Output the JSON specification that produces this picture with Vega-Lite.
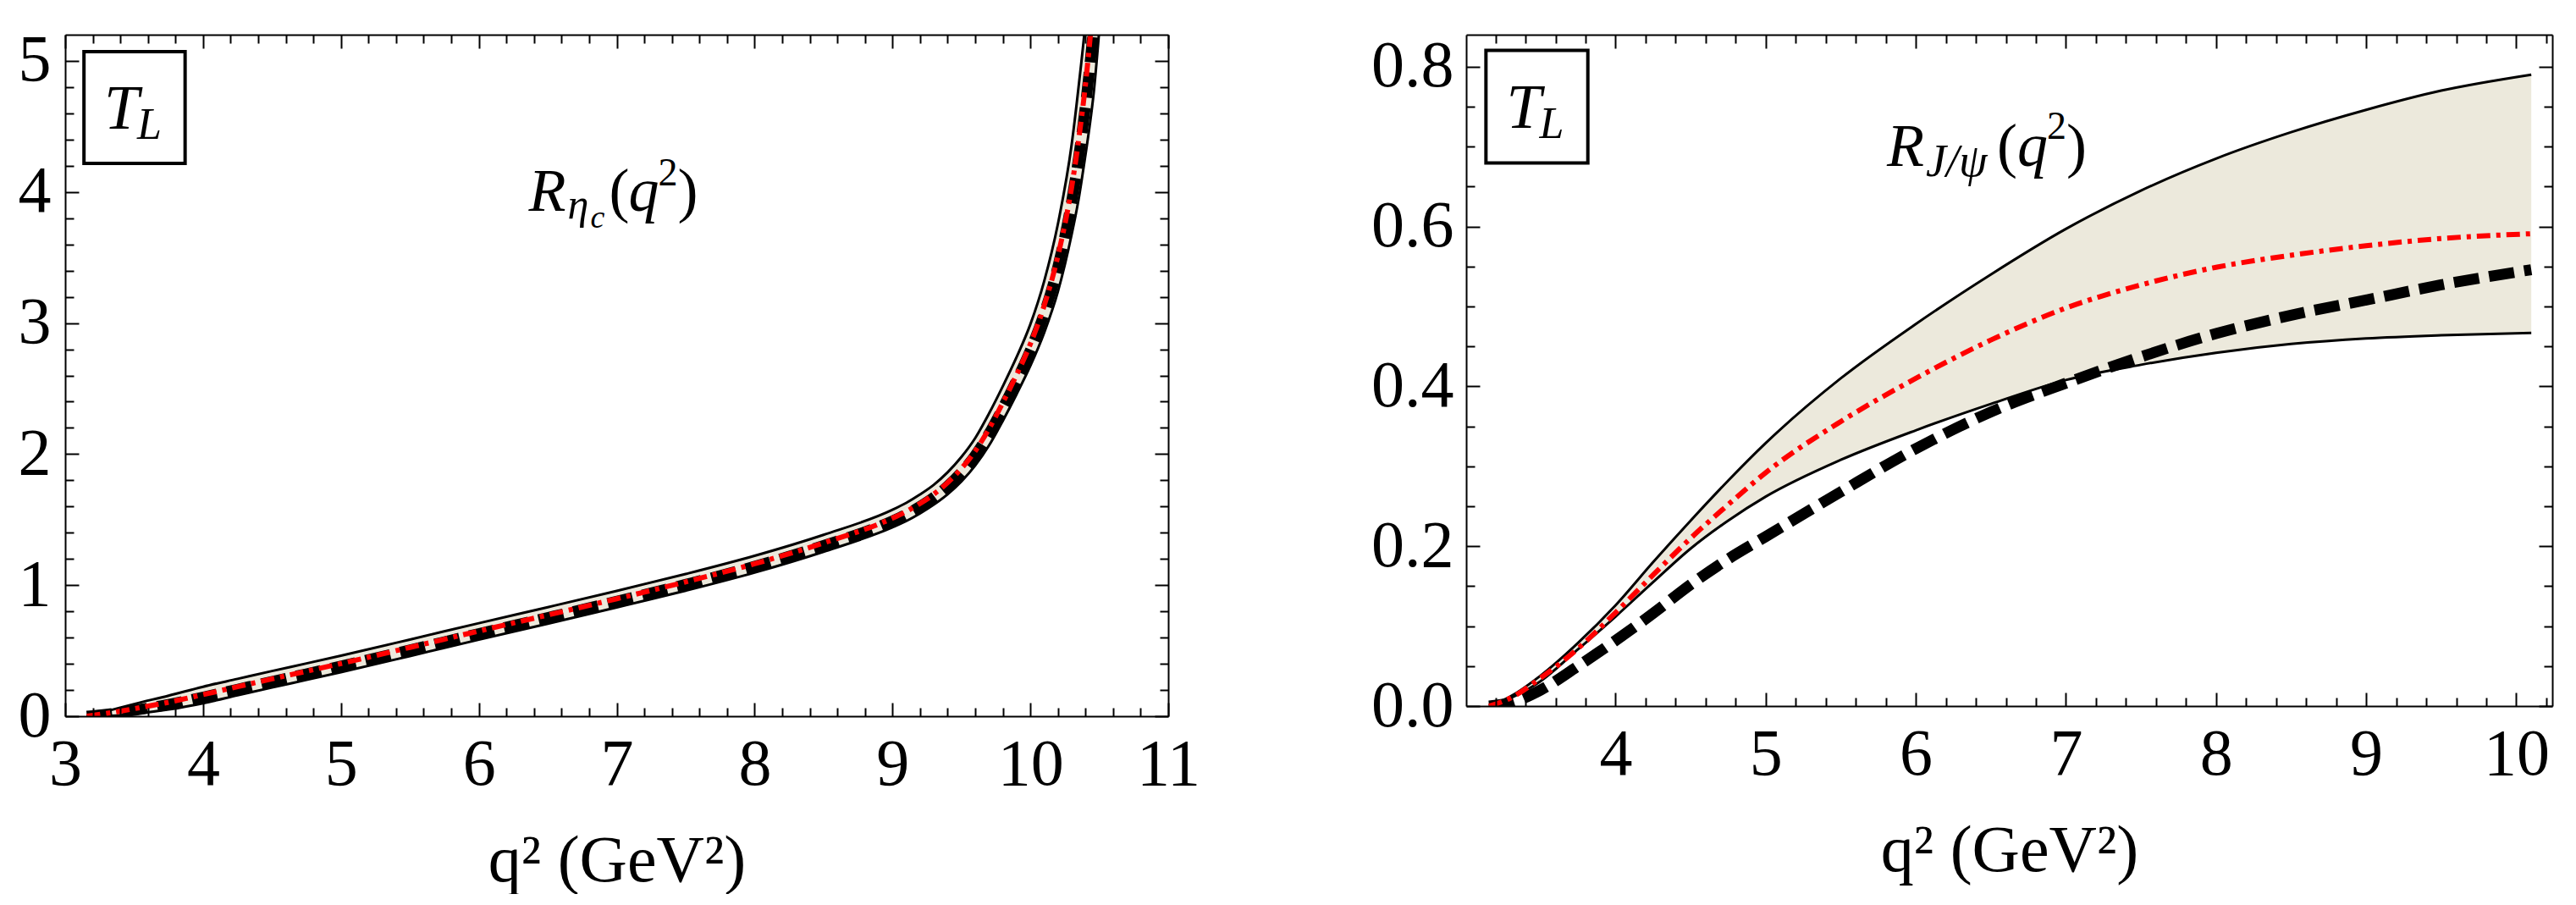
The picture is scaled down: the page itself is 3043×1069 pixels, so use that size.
{
  "$schema": "https://vega.github.io/schema/vega-lite/v6.json",
  "background": "white",
  "padding": {"left": 21, "top": 9, "right": 5, "bottom": 0},
  "spacing": 201,
  "config": {
    "view": {"stroke": null},
    "axis": {
      "grid": false,
      "domainColor": "black",
      "domainWidth": 2,
      "tickColor": "black",
      "tickWidth": 2,
      "labelFont": "Liberation Serif",
      "labelFontSize": 78,
      "labelColor": "black",
      "titleFont": "Liberation Serif",
      "titleFontSize": 78,
      "titleFontWeight": "normal",
      "titleColor": "black",
      "labelFlush": false,
      "labelOverlap": false,
      "labelBound": false
    }
  },
  "datasets": {
    "etac": [
      {"q2": 3.157, "lo": 0, "hi": 0, "mid": 0, "red": 0},
      {"q2": 3.3, "lo": 0.001, "hi": 0.038, "mid": 0.015, "red": 0.021},
      {"q2": 3.5, "lo": 0.017, "hi": 0.093, "mid": 0.045, "red": 0.057},
      {"q2": 3.75, "lo": 0.051, "hi": 0.157, "mid": 0.09, "red": 0.107},
      {"q2": 4.0, "lo": 0.099, "hi": 0.225, "mid": 0.145, "red": 0.165},
      {"q2": 4.25, "lo": 0.159, "hi": 0.285, "mid": 0.205, "red": 0.225},
      {"q2": 4.5, "lo": 0.219, "hi": 0.345, "mid": 0.265, "red": 0.285},
      {"q2": 4.75, "lo": 0.277, "hi": 0.403, "mid": 0.323, "red": 0.343},
      {"q2": 5.0, "lo": 0.336, "hi": 0.462, "mid": 0.382, "red": 0.402},
      {"q2": 5.5, "lo": 0.459, "hi": 0.585, "mid": 0.505, "red": 0.525},
      {"q2": 6.0, "lo": 0.584, "hi": 0.71, "mid": 0.63, "red": 0.65},
      {"q2": 6.5, "lo": 0.706, "hi": 0.832, "mid": 0.752, "red": 0.772},
      {"q2": 7.0, "lo": 0.83, "hi": 0.956, "mid": 0.876, "red": 0.896},
      {"q2": 7.5, "lo": 0.958, "hi": 1.085, "mid": 1.005, "red": 1.025},
      {"q2": 8.0, "lo": 1.096, "hi": 1.224, "mid": 1.143, "red": 1.163},
      {"q2": 8.5, "lo": 1.255, "hi": 1.384, "mid": 1.302, "red": 1.322},
      {"q2": 9.0, "lo": 1.441, "hi": 1.575, "mid": 1.49, "red": 1.511},
      {"q2": 9.1, "lo": 1.489, "hi": 1.628, "mid": 1.54, "red": 1.562},
      {"q2": 9.2, "lo": 1.547, "hi": 1.692, "mid": 1.6, "red": 1.623},
      {"q2": 9.3, "lo": 1.614, "hi": 1.766, "mid": 1.67, "red": 1.694},
      {"q2": 9.4, "lo": 1.693, "hi": 1.861, "mid": 1.755, "red": 1.782},
      {"q2": 9.5, "lo": 1.791, "hi": 1.978, "mid": 1.86, "red": 1.89},
      {"q2": 9.6, "lo": 1.913, "hi": 2.122, "mid": 1.99, "red": 2.023},
      {"q2": 9.7, "lo": 2.065, "hi": 2.309, "mid": 2.155, "red": 2.193},
      {"q2": 9.8, "lo": 2.253, "hi": 2.517, "mid": 2.35, "red": 2.392},
      {"q2": 9.9, "lo": 2.456, "hi": 2.739, "mid": 2.56, "red": 2.605},
      {"q2": 10.0, "lo": 2.673, "hi": 2.99, "mid": 2.79, "red": 2.84},
      {"q2": 10.1, "lo": 2.925, "hi": 3.318, "mid": 3.07, "red": 3.132},
      {"q2": 10.2, "lo": 3.24, "hi": 3.756, "mid": 3.43, "red": 3.512},
      {"q2": 10.3, "lo": 3.677, "hi": 4.365, "mid": 3.93, "red": 4.039},
      {"q2": 10.35, "lo": 3.943, "hi": 4.803, "mid": 4.26, "red": 4.396},
      {"q2": 10.4, "lo": 4.284, "hi": 5.304, "mid": 4.66, "red": 4.821},
      {"q2": 10.43, "lo": 4.502, "hi": 5.706, "mid": 4.945, "red": 5.135},
      {"q2": 10.46, "lo": 4.759, "hi": 6.16, "mid": 5.275, "red": 5.496},
      {"q2": 10.5, "lo": 5.234, "hi": 6.757, "mid": 5.795, "red": 6.036},
      {"q2": 10.55, "lo": 5.9, "hi": 7.6, "mid": 6.5, "red": 6.77}
    ],
    "etac_note": [
      {"tag_q2": 3.503, "tag_y": 4.645, "name_q2": 6.362, "name_y": 3.859}
    ],
    "jpsi": [
      {"q2": 3.157, "lo": 0, "hi": 0, "mid": 0, "red": 0},
      {"q2": 3.3, "lo": 0.01, "hi": 0.012, "mid": 0.004, "red": 0.01},
      {"q2": 3.5, "lo": 0.031, "hi": 0.038, "mid": 0.02, "red": 0.035},
      {"q2": 3.75, "lo": 0.071, "hi": 0.079, "mid": 0.05, "red": 0.072},
      {"q2": 4.0, "lo": 0.112, "hi": 0.126, "mid": 0.082, "red": 0.117},
      {"q2": 4.25, "lo": 0.155, "hi": 0.18, "mid": 0.116, "red": 0.164},
      {"q2": 4.5, "lo": 0.197, "hi": 0.232, "mid": 0.152, "red": 0.21},
      {"q2": 4.75, "lo": 0.232, "hi": 0.282, "mid": 0.184, "red": 0.252},
      {"q2": 5.0, "lo": 0.262, "hi": 0.329, "mid": 0.212, "red": 0.292},
      {"q2": 5.5, "lo": 0.308, "hi": 0.41, "mid": 0.268, "red": 0.356},
      {"q2": 6.0, "lo": 0.345, "hi": 0.478, "mid": 0.322, "red": 0.41},
      {"q2": 6.5, "lo": 0.378, "hi": 0.54, "mid": 0.368, "red": 0.458},
      {"q2": 7.0, "lo": 0.408, "hi": 0.597, "mid": 0.404, "red": 0.498},
      {"q2": 7.5, "lo": 0.427, "hi": 0.645, "mid": 0.437, "red": 0.527},
      {"q2": 8.0, "lo": 0.442, "hi": 0.685, "mid": 0.466, "red": 0.549},
      {"q2": 8.5, "lo": 0.453, "hi": 0.718, "mid": 0.489, "red": 0.564},
      {"q2": 9.0, "lo": 0.46, "hi": 0.746, "mid": 0.508, "red": 0.576},
      {"q2": 9.5, "lo": 0.464, "hi": 0.77, "mid": 0.527, "red": 0.585},
      {"q2": 10.1, "lo": 0.467, "hi": 0.79, "mid": 0.546, "red": 0.591}
    ],
    "jpsi_note": [
      {"tag_q2": 3.476, "tag_y": 0.75, "name_q2": 5.808, "name_y": 0.676}
    ]
  },
  "hconcat": [
    {
      "width": 1303,
      "height": 805,
      "data": {"name": "etac"},
      "layer": [
        {
          "mark": {"type": "area", "color": "#ECE9DC", "interpolate": "monotone", "clip": true},
          "encoding": {
            "x": {"field": "q2", "type": "quantitative", "scale": {"domain": [3, 11], "nice": false, "zero": false},
                  "axis": {"orient": "bottom", "values": [3, 4, 5, 6, 7, 8, 9, 10, 11], "format": "d", "ticks": false, "domain": true, "labelPadding": 18, "title": "q² (GeV²)", "titlePadding": 36, "zindex": 1}},
            "y": {"field": "lo", "type": "quantitative", "scale": {"domain": [0, 5.2], "nice": false, "zero": false},
                  "axis": {"orient": "left", "values": [0, 1, 2, 3, 4, 5], "format": "d", "ticks": false, "domain": true, "labelPadding": 17, "title": null, "zindex": 1}},
            "y2": {"field": "hi"}
          }
        },
        {
          "mark": {"type": "line", "color": "black", "strokeWidth": 3, "interpolate": "monotone", "clip": true},
          "encoding": {
            "x": {"field": "q2", "type": "quantitative", "scale": {"domain": [3, 11], "nice": false, "zero": false},
                  "axis": {"orient": "bottom", "values": [3, 4, 5, 6, 7, 8, 9, 10, 11], "labels": false, "domain": false, "tickSize": -16, "title": null, "zindex": 1}},
            "y": {"field": "hi", "type": "quantitative", "scale": {"domain": [0, 5.2], "nice": false, "zero": false},
                  "axis": {"orient": "left", "values": [0, 1, 2, 3, 4, 5], "labels": false, "domain": false, "tickSize": -16, "title": null, "zindex": 1}}
          }
        },
        {
          "mark": {"type": "line", "color": "black", "strokeWidth": 3, "interpolate": "monotone", "clip": true},
          "encoding": {
            "x": {"field": "q2", "type": "quantitative", "scale": {"domain": [3, 11], "nice": false, "zero": false},
                  "axis": {"orient": "bottom", "values": [3.2, 3.4, 3.6, 3.8, 4.2, 4.4, 4.6, 4.8, 5.2, 5.4, 5.6, 5.8, 6.2, 6.4, 6.6, 6.8, 7.2, 7.4, 7.6, 7.8, 8.2, 8.4, 8.6, 8.8, 9.2, 9.4, 9.6, 9.8, 10.2, 10.4, 10.6, 10.8], "labels": false, "domain": false, "tickSize": -10, "title": null, "zindex": 1}},
            "y": {"field": "lo", "type": "quantitative", "scale": {"domain": [0, 5.2], "nice": false, "zero": false},
                  "axis": {"orient": "left", "values": [0.2, 0.4, 0.6, 0.8, 1.2, 1.4, 1.6, 1.8, 2.2, 2.4, 2.6, 2.8, 3.2, 3.4, 3.6, 3.8, 4.2, 4.4, 4.6, 4.8], "labels": false, "domain": false, "tickSize": -10, "title": null, "zindex": 1}}
          }
        },
        {
          "mark": {"type": "line", "color": "black", "strokeWidth": 13, "strokeDash": [30, 12], "strokeCap": "butt", "interpolate": "monotone", "clip": true},
          "encoding": {
            "x": {"field": "q2", "type": "quantitative", "scale": {"domain": [3, 11], "nice": false, "zero": false},
                  "axis": {"orient": "top", "values": [3, 4, 5, 6, 7, 8, 9, 10, 11], "labels": false, "domain": true, "tickSize": -16, "title": null, "zindex": 1}},
            "y": {"field": "mid", "type": "quantitative", "scale": {"domain": [0, 5.2], "nice": false, "zero": false},
                  "axis": {"orient": "right", "values": [0, 1, 2, 3, 4, 5], "labels": false, "domain": true, "tickSize": -16, "title": null, "zindex": 1}}
          }
        },
        {
          "mark": {"type": "line", "color": "#FF0000", "strokeWidth": 6, "strokeDash": [16, 7, 5, 7], "strokeCap": "butt", "interpolate": "monotone", "clip": true},
          "encoding": {
            "x": {"field": "q2", "type": "quantitative", "scale": {"domain": [3, 11], "nice": false, "zero": false},
                  "axis": {"orient": "top", "values": [3.2, 3.4, 3.6, 3.8, 4.2, 4.4, 4.6, 4.8, 5.2, 5.4, 5.6, 5.8, 6.2, 6.4, 6.6, 6.8, 7.2, 7.4, 7.6, 7.8, 8.2, 8.4, 8.6, 8.8, 9.2, 9.4, 9.6, 9.8, 10.2, 10.4, 10.6, 10.8], "labels": false, "domain": false, "tickSize": -10, "title": null, "zindex": 1}},
            "y": {"field": "red", "type": "quantitative", "scale": {"domain": [0, 5.2], "nice": false, "zero": false},
                  "axis": {"orient": "right", "values": [0.2, 0.4, 0.6, 0.8, 1.2, 1.4, 1.6, 1.8, 2.2, 2.4, 2.6, 2.8, 3.2, 3.4, 3.6, 3.8, 4.2, 4.4, 4.6, 4.8], "labels": false, "domain": false, "tickSize": -10, "title": null, "zindex": 1}}
          }
        },
        {
          "data": {"name": "etac_note"},
          "mark": {"type": "point", "shape": "M-0.905,-1H0.905V1H-0.905Z", "size": 17424, "filled": false, "color": "black", "strokeWidth": 4, "opacity": 1},
          "encoding": {
            "x": {"field": "tag_q2", "type": "quantitative", "scale": {"domain": [3, 11], "nice": false, "zero": false},
                  "axis": {"orient": "top", "values": [7], "ticks": false, "domain": false, "labelColor": "transparent", "labelFontSize": 10, "labelPadding": 10, "title": null}},
            "y": {"field": "tag_y", "type": "quantitative", "scale": {"domain": [0, 5.2], "nice": false, "zero": false}, "axis": null}
          }
        },
        {
          "data": {"name": "etac_note"},
          "mark": {"type": "text", "text": "T", "font": "Liberation Serif", "fontStyle": "italic", "fontSize": 74, "align": "left", "baseline": "alphabetic", "dx": -36, "dy": 25, "color": "black"},
          "encoding": {
            "x": {"field": "tag_q2", "type": "quantitative", "scale": {"domain": [3, 11], "nice": false, "zero": false}, "axis": null},
            "y": {"field": "tag_y", "type": "quantitative", "scale": {"domain": [0, 5.2], "nice": false, "zero": false}, "axis": null}
          }
        },
        {
          "data": {"name": "etac_note"},
          "mark": {"type": "text", "text": "L", "font": "Liberation Serif", "fontStyle": "italic", "fontSize": 52, "align": "left", "baseline": "alphabetic", "dx": 3, "dy": 37, "color": "black"},
          "encoding": {
            "x": {"field": "tag_q2", "type": "quantitative", "scale": {"domain": [3, 11], "nice": false, "zero": false}, "axis": null},
            "y": {"field": "tag_y", "type": "quantitative", "scale": {"domain": [0, 5.2], "nice": false, "zero": false}, "axis": null}
          }
        },
        {
          "data": {"name": "etac_note"},
          "mark": {"type": "text", "text": "R", "font": "Liberation Serif", "fontStyle": "italic", "fontSize": 72, "align": "left", "baseline": "alphabetic", "color": "black"},
          "encoding": {
            "x": {"field": "name_q2", "type": "quantitative", "scale": {"domain": [3, 11], "nice": false, "zero": false}, "axis": null},
            "y": {"field": "name_y", "type": "quantitative", "scale": {"domain": [0, 5.2], "nice": false, "zero": false}, "axis": null}
          }
        },
        {
          "data": {"name": "etac_note"},
          "mark": {"type": "text", "text": "η", "font": "Liberation Serif", "fontStyle": "italic", "fontSize": 50, "align": "left", "baseline": "alphabetic", "dx": 46, "dy": 9, "color": "black"},
          "encoding": {
            "x": {"field": "name_q2", "type": "quantitative", "scale": {"domain": [3, 11], "nice": false, "zero": false}, "axis": null},
            "y": {"field": "name_y", "type": "quantitative", "scale": {"domain": [0, 5.2], "nice": false, "zero": false}, "axis": null}
          }
        },
        {
          "data": {"name": "etac_note"},
          "mark": {"type": "text", "text": "c", "font": "Liberation Serif", "fontStyle": "italic", "fontSize": 38, "align": "left", "baseline": "alphabetic", "dx": 73, "dy": 20, "color": "black"},
          "encoding": {
            "x": {"field": "name_q2", "type": "quantitative", "scale": {"domain": [3, 11], "nice": false, "zero": false}, "axis": null},
            "y": {"field": "name_y", "type": "quantitative", "scale": {"domain": [0, 5.2], "nice": false, "zero": false}, "axis": null}
          }
        },
        {
          "data": {"name": "etac_note"},
          "mark": {"type": "text", "text": "(", "font": "Liberation Serif", "fontSize": 72, "align": "left", "baseline": "alphabetic", "dx": 95, "color": "black"},
          "encoding": {
            "x": {"field": "name_q2", "type": "quantitative", "scale": {"domain": [3, 11], "nice": false, "zero": false}, "axis": null},
            "y": {"field": "name_y", "type": "quantitative", "scale": {"domain": [0, 5.2], "nice": false, "zero": false}, "axis": null}
          }
        },
        {
          "data": {"name": "etac_note"},
          "mark": {"type": "text", "text": "q", "font": "Liberation Serif", "fontStyle": "italic", "fontSize": 72, "align": "left", "baseline": "alphabetic", "dx": 118, "color": "black"},
          "encoding": {
            "x": {"field": "name_q2", "type": "quantitative", "scale": {"domain": [3, 11], "nice": false, "zero": false}, "axis": null},
            "y": {"field": "name_y", "type": "quantitative", "scale": {"domain": [0, 5.2], "nice": false, "zero": false}, "axis": null}
          }
        },
        {
          "data": {"name": "etac_note"},
          "mark": {"type": "text", "text": "2", "font": "Liberation Serif", "fontSize": 46, "align": "left", "baseline": "alphabetic", "dx": 153, "dy": -30, "color": "black"},
          "encoding": {
            "x": {"field": "name_q2", "type": "quantitative", "scale": {"domain": [3, 11], "nice": false, "zero": false}, "axis": null},
            "y": {"field": "name_y", "type": "quantitative", "scale": {"domain": [0, 5.2], "nice": false, "zero": false}, "axis": null}
          }
        },
        {
          "data": {"name": "etac_note"},
          "mark": {"type": "text", "text": ")", "font": "Liberation Serif", "fontSize": 72, "align": "left", "baseline": "alphabetic", "dx": 176, "color": "black"},
          "encoding": {
            "x": {"field": "name_q2", "type": "quantitative", "scale": {"domain": [3, 11], "nice": false, "zero": false}, "axis": null},
            "y": {"field": "name_y", "type": "quantitative", "scale": {"domain": [0, 5.2], "nice": false, "zero": false}, "axis": null}
          }
        }
      ],
      "resolve": {"axis": {"x": "independent", "y": "independent"}}
    },
    {
      "width": 1283,
      "height": 793,
      "data": {"name": "jpsi"},
      "layer": [
        {
          "mark": {"type": "area", "color": "#ECE9DC", "interpolate": "monotone", "clip": true},
          "encoding": {
            "x": {"field": "q2", "type": "quantitative", "scale": {"domain": [3.005, 10.24], "nice": false, "zero": false},
                  "axis": {"orient": "bottom", "values": [4, 5, 6, 7, 8, 9, 10], "format": "d", "ticks": false, "domain": true, "labelPadding": 18, "title": "q² (GeV²)", "titlePadding": 36, "zindex": 1}},
            "y": {"field": "lo", "type": "quantitative", "scale": {"domain": [0, 0.84], "nice": false, "zero": false},
                  "axis": {"orient": "left", "values": [0, 0.2, 0.4, 0.6, 0.8], "format": ".1f", "ticks": false, "domain": true, "labelPadding": 15, "title": null, "zindex": 1}},
            "y2": {"field": "hi"}
          }
        },
        {
          "mark": {"type": "line", "color": "black", "strokeWidth": 3, "interpolate": "monotone", "clip": true},
          "encoding": {
            "x": {"field": "q2", "type": "quantitative", "scale": {"domain": [3.005, 10.24], "nice": false, "zero": false},
                  "axis": {"orient": "bottom", "values": [4, 5, 6, 7, 8, 9, 10], "labels": false, "domain": false, "tickSize": -16, "title": null, "zindex": 1}},
            "y": {"field": "hi", "type": "quantitative", "scale": {"domain": [0, 0.84], "nice": false, "zero": false},
                  "axis": {"orient": "left", "values": [0, 0.2, 0.4, 0.6, 0.8], "labels": false, "domain": false, "tickSize": -16, "title": null, "zindex": 1}}
          }
        },
        {
          "mark": {"type": "line", "color": "black", "strokeWidth": 3, "interpolate": "monotone", "clip": true},
          "encoding": {
            "x": {"field": "q2", "type": "quantitative", "scale": {"domain": [3.005, 10.24], "nice": false, "zero": false},
                  "axis": {"orient": "bottom", "values": [3.2, 3.4, 3.6, 3.8, 4.2, 4.4, 4.6, 4.8, 5.2, 5.4, 5.6, 5.8, 6.2, 6.4, 6.6, 6.8, 7.2, 7.4, 7.6, 7.8, 8.2, 8.4, 8.6, 8.8, 9.2, 9.4, 9.6, 9.8, 10.2], "labels": false, "domain": false, "tickSize": -10, "title": null, "zindex": 1}},
            "y": {"field": "lo", "type": "quantitative", "scale": {"domain": [0, 0.84], "nice": false, "zero": false},
                  "axis": {"orient": "left", "values": [0.05, 0.1, 0.15, 0.25, 0.3, 0.35, 0.45, 0.5, 0.55, 0.65, 0.7, 0.75], "labels": false, "domain": false, "tickSize": -10, "title": null, "zindex": 1}}
          }
        },
        {
          "mark": {"type": "line", "color": "black", "strokeWidth": 13, "strokeDash": [30, 12], "strokeCap": "butt", "interpolate": "monotone", "clip": true},
          "encoding": {
            "x": {"field": "q2", "type": "quantitative", "scale": {"domain": [3.005, 10.24], "nice": false, "zero": false},
                  "axis": {"orient": "top", "values": [4, 5, 6, 7, 8, 9, 10], "labels": false, "domain": true, "tickSize": -16, "title": null, "zindex": 1}},
            "y": {"field": "mid", "type": "quantitative", "scale": {"domain": [0, 0.84], "nice": false, "zero": false},
                  "axis": {"orient": "right", "values": [0, 0.2, 0.4, 0.6, 0.8], "labels": false, "domain": true, "tickSize": -16, "title": null, "zindex": 1}}
          }
        },
        {
          "mark": {"type": "line", "color": "#FF0000", "strokeWidth": 6, "strokeDash": [16, 7, 5, 7], "strokeCap": "butt", "interpolate": "monotone", "clip": true},
          "encoding": {
            "x": {"field": "q2", "type": "quantitative", "scale": {"domain": [3.005, 10.24], "nice": false, "zero": false},
                  "axis": {"orient": "top", "values": [3.2, 3.4, 3.6, 3.8, 4.2, 4.4, 4.6, 4.8, 5.2, 5.4, 5.6, 5.8, 6.2, 6.4, 6.6, 6.8, 7.2, 7.4, 7.6, 7.8, 8.2, 8.4, 8.6, 8.8, 9.2, 9.4, 9.6, 9.8, 10.2], "labels": false, "domain": false, "tickSize": -10, "title": null, "zindex": 1}},
            "y": {"field": "red", "type": "quantitative", "scale": {"domain": [0, 0.84], "nice": false, "zero": false},
                  "axis": {"orient": "right", "values": [0.05, 0.1, 0.15, 0.25, 0.3, 0.35, 0.45, 0.5, 0.55, 0.65, 0.7, 0.75], "labels": false, "domain": false, "tickSize": -10, "title": null, "zindex": 1}}
          }
        },
        {
          "data": {"name": "jpsi_note"},
          "mark": {"type": "point", "shape": "M-0.905,-1H0.905V1H-0.905Z", "size": 17689, "filled": false, "color": "black", "strokeWidth": 4, "opacity": 1},
          "encoding": {
            "x": {"field": "tag_q2", "type": "quantitative", "scale": {"domain": [3.005, 10.24], "nice": false, "zero": false},
                  "axis": {"orient": "top", "values": [7], "ticks": false, "domain": false, "labelColor": "transparent", "labelFontSize": 10, "labelPadding": 22, "title": null}},
            "y": {"field": "tag_y", "type": "quantitative", "scale": {"domain": [0, 0.84], "nice": false, "zero": false}, "axis": null}
          }
        },
        {
          "data": {"name": "jpsi_note"},
          "mark": {"type": "text", "text": "T", "font": "Liberation Serif", "fontStyle": "italic", "fontSize": 74, "align": "left", "baseline": "alphabetic", "dx": -36, "dy": 25, "color": "black"},
          "encoding": {
            "x": {"field": "tag_q2", "type": "quantitative", "scale": {"domain": [3.005, 10.24], "nice": false, "zero": false}, "axis": null},
            "y": {"field": "tag_y", "type": "quantitative", "scale": {"domain": [0, 0.84], "nice": false, "zero": false}, "axis": null}
          }
        },
        {
          "data": {"name": "jpsi_note"},
          "mark": {"type": "text", "text": "L", "font": "Liberation Serif", "fontStyle": "italic", "fontSize": 52, "align": "left", "baseline": "alphabetic", "dx": 3, "dy": 37, "color": "black"},
          "encoding": {
            "x": {"field": "tag_q2", "type": "quantitative", "scale": {"domain": [3.005, 10.24], "nice": false, "zero": false}, "axis": null},
            "y": {"field": "tag_y", "type": "quantitative", "scale": {"domain": [0, 0.84], "nice": false, "zero": false}, "axis": null}
          }
        },
        {
          "data": {"name": "jpsi_note"},
          "mark": {"type": "text", "text": "R", "font": "Liberation Serif", "fontStyle": "italic", "fontSize": 72, "align": "left", "baseline": "alphabetic", "color": "black"},
          "encoding": {
            "x": {"field": "name_q2", "type": "quantitative", "scale": {"domain": [3.005, 10.24], "nice": false, "zero": false}, "axis": null},
            "y": {"field": "name_y", "type": "quantitative", "scale": {"domain": [0, 0.84], "nice": false, "zero": false}, "axis": null}
          }
        },
        {
          "data": {"name": "jpsi_note"},
          "mark": {"type": "text", "text": "J/ψ", "font": "Liberation Serif", "fontStyle": "italic", "fontSize": 54, "align": "left", "baseline": "alphabetic", "dx": 46, "dy": 12, "color": "black"},
          "encoding": {
            "x": {"field": "name_q2", "type": "quantitative", "scale": {"domain": [3.005, 10.24], "nice": false, "zero": false}, "axis": null},
            "y": {"field": "name_y", "type": "quantitative", "scale": {"domain": [0, 0.84], "nice": false, "zero": false}, "axis": null}
          }
        },
        {
          "data": {"name": "jpsi_note"},
          "mark": {"type": "text", "text": "(", "font": "Liberation Serif", "fontSize": 72, "align": "left", "baseline": "alphabetic", "dx": 130, "color": "black"},
          "encoding": {
            "x": {"field": "name_q2", "type": "quantitative", "scale": {"domain": [3.005, 10.24], "nice": false, "zero": false}, "axis": null},
            "y": {"field": "name_y", "type": "quantitative", "scale": {"domain": [0, 0.84], "nice": false, "zero": false}, "axis": null}
          }
        },
        {
          "data": {"name": "jpsi_note"},
          "mark": {"type": "text", "text": "q", "font": "Liberation Serif", "fontStyle": "italic", "fontSize": 72, "align": "left", "baseline": "alphabetic", "dx": 154, "color": "black"},
          "encoding": {
            "x": {"field": "name_q2", "type": "quantitative", "scale": {"domain": [3.005, 10.24], "nice": false, "zero": false}, "axis": null},
            "y": {"field": "name_y", "type": "quantitative", "scale": {"domain": [0, 0.84], "nice": false, "zero": false}, "axis": null}
          }
        },
        {
          "data": {"name": "jpsi_note"},
          "mark": {"type": "text", "text": "2", "font": "Liberation Serif", "fontSize": 46, "align": "left", "baseline": "alphabetic", "dx": 189, "dy": -32, "color": "black"},
          "encoding": {
            "x": {"field": "name_q2", "type": "quantitative", "scale": {"domain": [3.005, 10.24], "nice": false, "zero": false}, "axis": null},
            "y": {"field": "name_y", "type": "quantitative", "scale": {"domain": [0, 0.84], "nice": false, "zero": false}, "axis": null}
          }
        },
        {
          "data": {"name": "jpsi_note"},
          "mark": {"type": "text", "text": ")", "font": "Liberation Serif", "fontSize": 72, "align": "left", "baseline": "alphabetic", "dx": 212, "color": "black"},
          "encoding": {
            "x": {"field": "name_q2", "type": "quantitative", "scale": {"domain": [3.005, 10.24], "nice": false, "zero": false}, "axis": null},
            "y": {"field": "name_y", "type": "quantitative", "scale": {"domain": [0, 0.84], "nice": false, "zero": false}, "axis": null}
          }
        }
      ],
      "resolve": {"axis": {"x": "independent", "y": "independent"}}
    }
  ]
}
